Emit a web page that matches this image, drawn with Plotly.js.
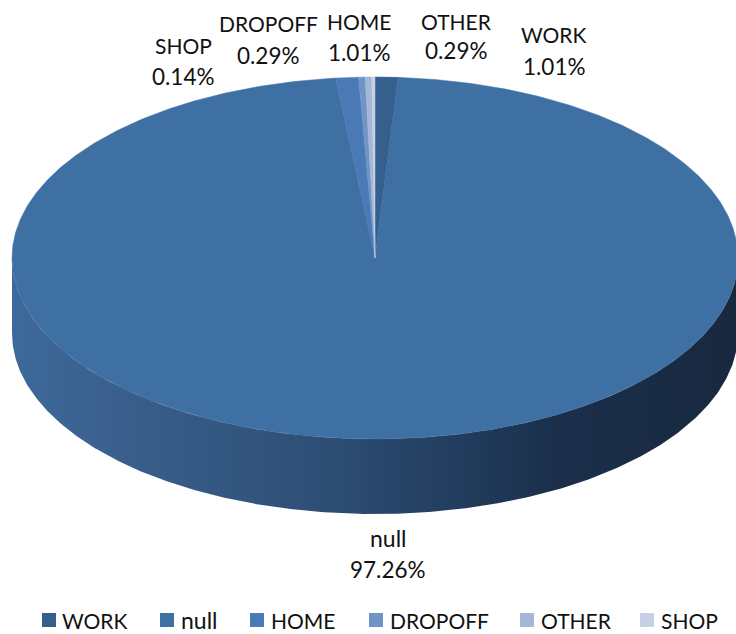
<!DOCTYPE html>
<html><head><meta charset="utf-8">
<script src="https://cdn.plot.ly/plotly-3.0.1.min.js"></script>
<style>html,body{margin:0;padding:0;background:#fff}#c{width:736px;height:634px}</style>
</head><body><div id="c"></div>
<script>
// Data
const categories = ['WORK','null','HOME','DROPOFF','OTHER','SHOP'];
const shares = [1.01,97.26,1.01,0.29,0.29,0.14];
const shareLabels = ['1.01%','97.26%','1.01%','0.29%','0.29%','0.14%'];

// Styles and layout
const colors = ['#355f8d','#3f70a4','#4a7ab5','#7094c6','#a4b7d9','#c5d0e5'];
const W=736,H=634,CX=375,CY=258,RX=363,RY=181,DEPTH=75/181;
const FONT='Lato, "Open Sans", sans-serif', TXT='#111111', FS=21, FS_PCT=22.5, FS_LOWER=23;
const labelX=[554,388,359,268,456,183];
const labelY=[[35,66],[538,569],[21,52],[24,55],[21,51],[45,76]];
const legendX=[42,160,250,369,520,640];
const legendTextX=[62,181,271,390,541,661];
const legendY=620;

const pt=t=>[Math.sin(t),Math.cos(t)];
const traces=[];

// side wall (front half of the disc)
{
  const x=[],y=[],N=360;
  for(let i=0;i<=N;i++){const t=Math.PI/2+Math.PI*i/N;const p=pt(t);x.push(p[0]);y.push(p[1]);}
  for(let i=N;i>=0;i--){const t=Math.PI/2+Math.PI*i/N;const p=pt(t);x.push(p[0]);y.push(p[1]-DEPTH);}
  traces.push({type:'scatter',mode:'lines',x,y,line:{width:0},fill:'toself',
    fillgradient:{type:'horizontal',colorscale:[[0,'#3d6a9b'],[0.15,'#3a5f8c'],[0.4,'#2f5178'],[0.6,'#233e60'],[0.75,'#1b2f4b'],[1,'#18283f']]},
    hoverinfo:'skip',showlegend:false});
}

// top slices, clockwise from 12 o'clock
const total=shares.reduce((a,b)=>a+b,0);
let acc=0;
shares.forEach((v,k)=>{
  const a0=acc/total*2*Math.PI; acc+=v; const a1=acc/total*2*Math.PI;
  const n=Math.max(2,Math.ceil((a1-a0)*120)),x=[0],y=[0];
  for(let i=0;i<=n;i++){const p=pt(a0+(a1-a0)*i/n);x.push(p[0]);y.push(p[1]);}
  x.push(0);y.push(0);
  traces.push({type:'scatter',mode:'lines',x,y,name:categories[k],line:{width:0.5,color:colors[k]},
    fill:'toself',fillcolor:colors[k],text:shareLabels[k],hoverinfo:'name+text',showlegend:false});
});

const ann=[],shapes=[];
const px=v=>v/W, py=v=>1-v/H;
categories.forEach((c,k)=>{
  const fs=c===c.toLowerCase()?FS_LOWER:FS;
  ann.push({xref:'paper',yref:'paper',x:px(labelX[k]),y:py(labelY[k][0]),text:c,showarrow:false,xanchor:'center',yanchor:'middle',font:{family:FONT,size:fs,color:TXT}});
  ann.push({xref:'paper',yref:'paper',x:px(labelX[k]),y:py(labelY[k][1]),text:shareLabels[k],showarrow:false,xanchor:'center',yanchor:'middle',font:{family:FONT,size:FS_PCT,color:TXT}});
  ann.push({xref:'paper',yref:'paper',x:px(legendTextX[k]),y:py(legendY),text:c,showarrow:false,xanchor:'left',yanchor:'middle',xshift:-2,font:{family:FONT,size:fs,color:TXT}});
  shapes.push({type:'rect',xref:'paper',yref:'paper',x0:px(legendX[k]),x1:px(legendX[k]+14),y0:py(legendY+7),y1:py(legendY-7),fillcolor:colors[k],line:{width:0}});
});

Plotly.newPlot('c',traces,{
  width:W,height:H,margin:{l:0,r:0,t:0,b:0},paper_bgcolor:'#fff',plot_bgcolor:'#fff',showlegend:false,
  xaxis:{range:[-CX/RX,(W-CX)/RX],visible:false,fixedrange:true},
  yaxis:{range:[-(H-CY)/RY,CY/RY],visible:false,fixedrange:true},
  annotations:ann,shapes
},{displayModeBar:false,staticPlot:true});
</script></body></html>
